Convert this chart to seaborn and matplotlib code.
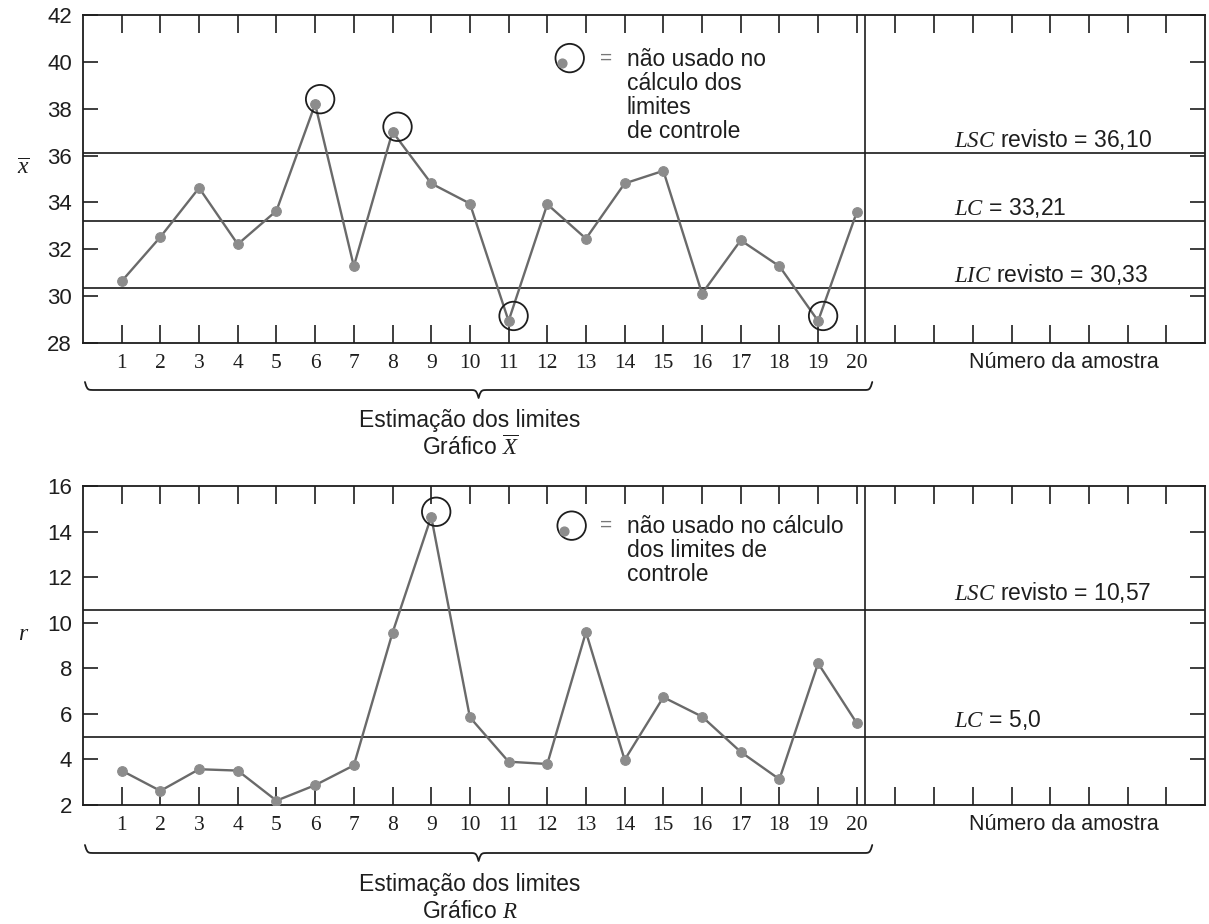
import numpy as np
import pandas as pd
import matplotlib
matplotlib.use("Agg")
import matplotlib.pyplot as plt
import matplotlib.transforms as mtransforms
import seaborn as sns

# ---------------- data ----------------
samples = list(range(1, 21))
xbar_values = [30.63, 32.52, 34.62, 32.21, 33.64, 38.20, 31.27, 37.02, 34.81, 33.95,
               28.93, 33.92, 32.45, 34.81, 35.35, 30.10, 32.38, 31.27, 28.93, 33.58]
r_values = [3.51, 2.62, 3.57, 3.51, 2.19, 2.87, 3.74, 9.56, 14.65, 5.85,
            3.90, 3.80, 9.59, 3.98, 6.73, 5.88, 4.33, 3.13, 8.22, 5.59]
xbar_excluded = [6, 8, 11, 19]
r_excluded = [9]
xbar_limits = [36.10, 33.21, 30.33]
xbar_limit_labels = [r"$LSC$ revisto = 36,10", r"$LC$ = 33,21", r"$LIC$ revisto = 30,33"]
r_limits = [10.57, 5.0]
r_limit_labels = [r"$LSC$ revisto = 10,57", r"$LC$ = 5,0"]
xtick_positions = list(range(1, 29))
xtick_labels = [str(i) for i in samples] + [""] * 8
xbar_yticks = list(range(28, 43, 2))
r_yticks = list(range(2, 17, 2))
legend_xbar = "não usado no\ncálculo dos\nlimites\nde controle"
legend_r = "não usado no cálculo\ndos limites de\ncontrole"

# ---------------- style ----------------
sns.set_theme(style="white")
plt.rcParams["font.family"] = ["Liberation Sans", "DejaVu Sans"]
plt.rcParams["mathtext.fontset"] = "custom"
plt.rcParams["mathtext.it"] = "Liberation Serif:italic"
plt.rcParams["mathtext.rm"] = "Liberation Serif"
plt.rcParams["mathtext.bf"] = "Liberation Serif:bold"

W, H = 1209, 924
fig = plt.figure(figsize=(W / 100, H / 100), dpi=100)
fig.patch.set_facecolor("white")

L, R = 83, 1205
ax1 = fig.add_axes([L / W, 1 - 342.7 / H, (R - L) / W, (342.7 - 15.3) / H])
ax2 = fig.add_axes([L / W, 1 - 805 / H, (R - L) / W, (805 - 486) / H])

LINE_C = "#6a6a6a"
DOT_C = "#8c8c8c"
DARK = "#1e1e1e"
FS = 16.5


def brace(x0, x1, y_end_px, depth_px, beta=35.0):
    tr = mtransforms.blended_transform_factory(ax1.transData, fig.transFigure)
    n = 300
    xm = (x0 + x1) / 2
    xh = np.linspace(x0, xm, n)
    yh = 1 / (1 + np.exp(-beta * (xh - xh[0]))) + 1 / (1 + np.exp(-beta * (xh - xh[-1])))
    xs = np.concatenate([xh, (x1 - (xh - x0))[-2::-1]])
    ys = np.concatenate([yh, yh[-2::-1]])
    yfig = (1 - y_end_px / H) - (ys - 0.5) * depth_px / H
    fig.add_artist(plt.Line2D(xs, yfig, transform=tr, color=DARK, lw=1.3))


def panel(ax, values, excluded, limits, limit_labels, yticks, ylabel, label_off,
          legend_xy, legend_text, legend_text_top):
    df = pd.DataFrame({"amostra": samples, "valor": values})
    sns.lineplot(data=df, x="amostra", y="valor", ax=ax, color=LINE_C, lw=1.7,
                 marker="o", markersize=7, markerfacecolor=DOT_C,
                 markeredgecolor=DOT_C, zorder=3)
    sub = df[df["amostra"].isin(excluded)]
    off = mtransforms.offset_copy(ax.transData, fig=fig, x=5, y=5, units="dots")
    ax.scatter(sub["amostra"], sub["valor"], s=420, facecolors="none",
               edgecolors=DARK, linewidths=1.3, transform=off, zorder=4, clip_on=False)

    for v, lab in zip(limits, limit_labels):
        ax.axhline(v, color="#2b2b2b", lw=1.3, zorder=2)
        ax.annotate(lab, xy=(22.5, v), xycoords="data", xytext=(0, label_off),
                    textcoords="offset pixels", ha="left", va="baseline",
                    fontsize=FS, color=DARK)
    ax.axvline(20.2, color=DARK, lw=1.2, zorder=2)

    ax.set_xlim(0, 29)
    ax.set_ylim(yticks[0], yticks[-1])
    ax.set_xticks(xtick_positions)
    ax.set_xticklabels(xtick_labels)
    ax.set_yticks(yticks)
    ax.set_yticklabels([str(t) for t in yticks])
    ax.tick_params(axis="x", which="both", direction="in", top=True, bottom=True,
                   length=13, width=1.2, pad=8, labelsize=15.5, colors=DARK)
    ax.tick_params(axis="y", which="both", direction="in", left=True, right=True,
                   length=11, width=1.2, pad=8, labelsize=16, colors=DARK)
    for lbl in ax.get_xticklabels():
        lbl.set_fontfamily("Liberation Serif")
    for s in ax.spines.values():
        s.set_visible(True)
        s.set_color(DARK)
        s.set_linewidth(1.3)
    ax.set_xlabel("")
    ax.set_ylabel(ylabel, rotation=0, fontsize=17, color=DARK)
    ax.yaxis.set_label_coords(-0.053, 0.5)
    ax.grid(False)

    ax.annotate("Número da amostra", xy=(22.9, 0), xycoords=("data", "axes fraction"),
                xytext=(0, -20), textcoords="offset pixels", ha="left", va="center",
                fontsize=15.5, color=DARK)

    # legend symbol
    lx, ly = legend_xy
    ax.scatter([lx], [ly], s=420, facecolors="none", edgecolors=DARK, linewidths=1.3,
               zorder=4, clip_on=False)
    doff = mtransforms.offset_copy(ax.transData, fig=fig, x=-8, y=-5, units="dots")
    ax.scatter([lx], [ly], s=40, color=DOT_C, transform=doff, zorder=5)
    ax.text(13.51, ly, "=", ha="center", va="center", fontsize=15, color="#777777")
    ax.text(14.06, legend_text_top, legend_text, ha="left", va="top", fontsize=FS,
            linespacing=1.05, color=DARK)


panel(ax1, xbar_values, xbar_excluded, xbar_limits, xbar_limit_labels, xbar_yticks,
      r"$\overline{x}$", 6, (12.58, 40.17), legend_xbar, 40.6)
panel(ax2, r_values, r_excluded, r_limits, r_limit_labels, r_yticks,
      r"$r$", 10, (12.63, 14.26), legend_r, 14.72)

# braces and captions
brace(0.05, 20.4, 382, 16)
brace(0.05, 20.4, 845, 16)
cx = 470 / W
fig.text(cx, 1 - 420 / H, "Estimação dos limites", ha="center", va="center",
         fontsize=FS, color=DARK)
fig.text(cx, 1 - 448 / H, r"Gráfico $\overline{X}$", ha="center", va="center",
         fontsize=FS, color=DARK)
fig.text(cx, 1 - 885 / H, "Estimação dos limites", ha="center", va="center",
         fontsize=FS, color=DARK)
fig.text(cx, 1 - 911 / H, r"Gráfico $R$", ha="center", va="center",
         fontsize=FS, color=DARK)

fig.savefig("out.png", dpi=100, facecolor="white")
